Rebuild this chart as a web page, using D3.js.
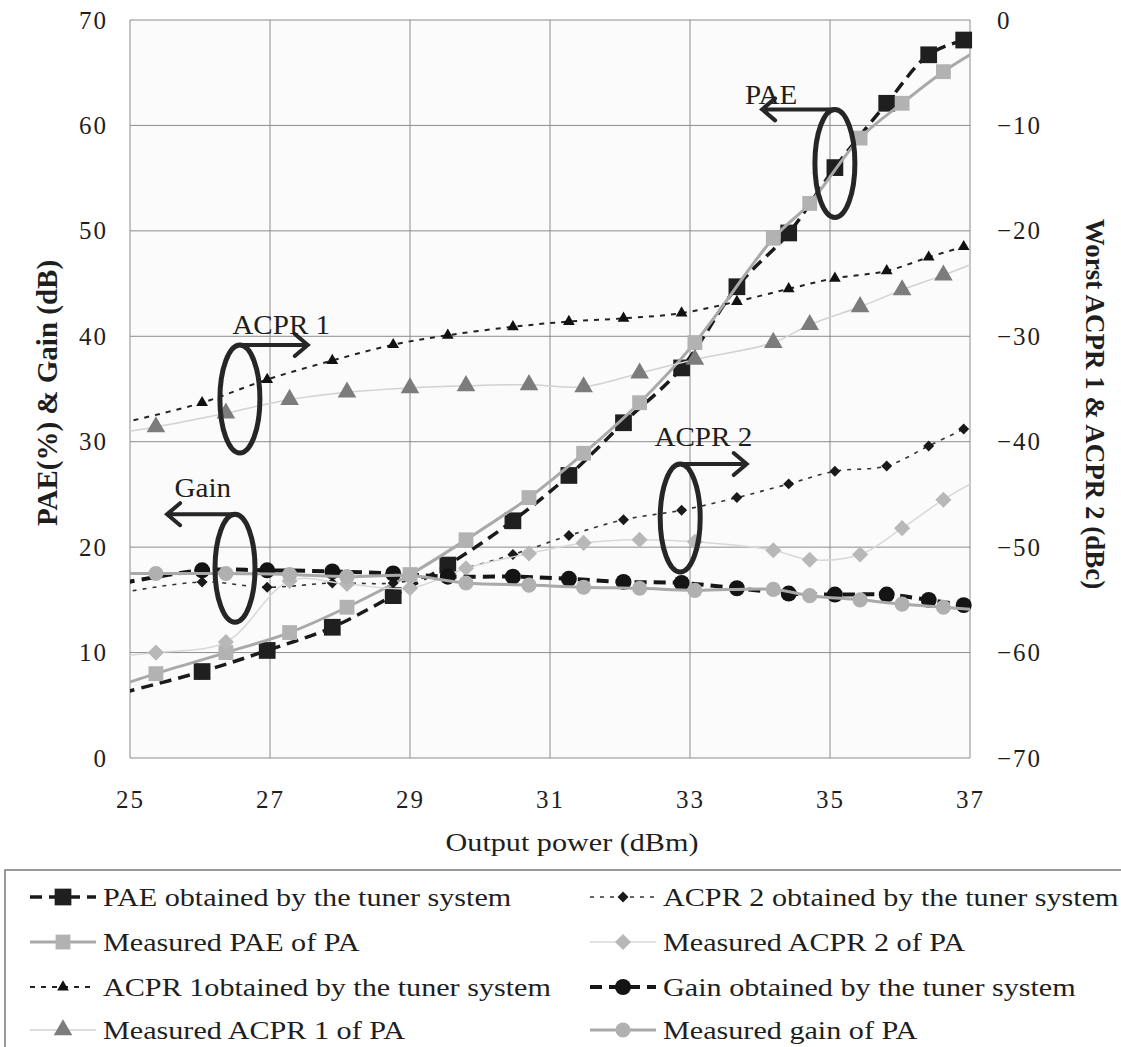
<!DOCTYPE html>
<html>
<head>
<meta charset="utf-8">
<script src="https://cdn.jsdelivr.net/npm/d3@7"></script>
<style>
  body { margin: 0; background: #fff; }
  svg { display: block; }
  text { font-family: "Liberation Serif", "Times New Roman", serif; fill: #1e1e1e; }
</style>
</head>
<body>
<svg id="chart" width="1121" height="1047"></svg>
<script>
// ---- data -------------------------------------------------------------
// Output power (dBm) of the tuner-system sweep
const tunerPower = [24.9, 26.03, 26.96, 27.89, 28.76, 29.54, 30.47, 31.27, 32.05, 32.88, 33.67, 34.41, 35.07, 35.81, 36.41, 36.91];
const tunerPAE   = [6.2, 8.2, 10.2, 12.4, 15.4, 18.3, 22.5, 26.8, 31.8, 37.0, 44.7, 49.8, 56.0, 62.1, 66.7, 68.1];
const tunerGain  = [16.6, 17.8, 17.8, 17.7, 17.5, 17.2, 17.2, 17.0, 16.7, 16.6, 16.1, 15.6, 15.5, 15.5, 15.0, 14.5];
const tunerACPR1 = [-38.2, -36.3, -34.1, -32.3, -30.8, -29.9, -29.1, -28.6, -28.3, -27.8, -26.7, -25.5, -24.5, -23.8, -22.5, -21.5];
const tunerACPR2 = [-54.3, -53.3, -53.8, -53.4, -53.4, -52.4, -50.7, -48.9, -47.4, -46.5, -45.3, -44.0, -42.8, -42.3, -40.4, -38.8];

// Output power (dBm) of the PA measurement
const paPower = [24.5, 25.37, 26.37, 27.28, 28.1, 29.0, 29.8, 30.7, 31.48, 32.28, 33.07, 34.19, 34.71, 35.43, 36.03, 36.62, 37.2];
const paPAE   = [6.1, 8.0, 10.0, 11.9, 14.3, 17.4, 20.7, 24.7, 28.9, 33.7, 39.4, 49.3, 52.6, 58.8, 62.1, 65.1, 67.5];
const paGain  = [17.5, 17.5, 17.5, 17.4, 17.2, 17.3, 16.6, 16.4, 16.2, 16.1, 15.9, 16.0, 15.4, 15.0, 14.6, 14.3, 14.0];
const paACPR1 = [-39.5, -38.6, -37.3, -36.0, -35.3, -34.9, -34.7, -34.6, -34.8, -33.5, -32.2, -30.6, -28.9, -27.2, -25.6, -24.2, -22.7];
const paACPR2 = [-60.5, -60.0, -59.0, -53.2, -53.5, -53.9, -52.0, -50.6, -49.6, -49.3, -49.5, -50.3, -51.2, -50.7, -48.2, -45.5, -43.3];

// axis ticks
const xTicks = [25, 27, 29, 31, 33, 35, 37];
const leftTicks = [0, 10, 20, 30, 40, 50, 60, 70];
const rightTicks = [0, -10, -20, -30, -40, -50, -60, -70];

// series labels, in drawing / legend order
const seriesNames = [
  "PAE obtained by the tuner system",
  "Measured PAE of PA",
  "ACPR 1obtained by the tuner system",
  "Measured ACPR 1 of PA",
  "ACPR 2 obtained by the tuner system",
  "Measured ACPR 2 of PA",
  "Gain obtained by the tuner system",
  "Measured gain of PA"
];

// callout labels: text, ellipse centre (dBm, left-axis units), arrow end (dBm), label position
const calloutText = ["PAE", "ACPR 1", "Gain", "ACPR 2"];
const calloutCx   = [35.07, 26.57, 26.5, 32.86];
const calloutCy   = [56.4, 34.05, 18.0, 22.76];
const calloutTip  = [34.03, 27.54, 25.53, 33.81];
const calloutTx   = [34.16, 27.16, 26.04, 33.19];
const calloutTy   = [62.0, 40.2, 24.8, 29.6];

// ---- layout -----------------------------------------------------------
const svg = d3.select("#chart");
const plot = { left: 130, right: 970, top: 20, bottom: 758 };
const widen = 1.16;   // the serif labels are set slightly wide

const x  = d3.scaleLinear().domain([25, 37]).range([plot.left, plot.right]);
const yL = d3.scaleLinear().domain([0, 70]).range([plot.bottom, plot.top]);
const yR = d3.scaleLinear().domain([-70, 0]).range([plot.bottom, plot.top]);

svg.append("defs").append("clipPath").attr("id", "plotClip")
  .append("rect")
  .attr("x", plot.left).attr("y", plot.top)
  .attr("width", plot.right - plot.left).attr("height", plot.bottom - plot.top);

// plot background
svg.append("rect")
  .attr("x", plot.left).attr("y", plot.top)
  .attr("width", plot.right - plot.left).attr("height", plot.bottom - plot.top)
  .attr("fill", "#fbfbfb");

// grid
const grid = svg.append("g").attr("stroke", "#8c8c8c").attr("stroke-width", 1);
grid.selectAll("line.v").data(xTicks).join("line")
  .attr("x1", d => x(d)).attr("x2", d => x(d))
  .attr("y1", plot.top).attr("y2", plot.bottom);
grid.selectAll("line.h").data(leftTicks).join("line")
  .attr("x1", plot.left).attr("x2", plot.right)
  .attr("y1", d => yL(d)).attr("y2", d => yL(d));

// axes (labels only, gridlines serve as ticks)
const axisFont = 25;
const gx = svg.append("g").attr("transform", `translate(0,${plot.bottom + 42})`)
  .call(d3.axisBottom(x).tickValues(xTicks).tickSize(0).tickPadding(0));
const gl = svg.append("g").attr("transform", `translate(${plot.left - 22},0)`)
  .call(d3.axisLeft(yL).tickValues(leftTicks).tickSize(0).tickPadding(0));
const gr = svg.append("g").attr("transform", `translate(${plot.right + 27},0)`)
  .call(d3.axisRight(yR).tickValues(rightTicks).tickSize(0).tickPadding(0));
[gx, gl, gr].forEach(g => {
  g.select(".domain").remove();
  g.selectAll("text")
    .attr("font-family", "'Liberation Serif', serif")
    .attr("font-size", axisFont)
    .attr("letter-spacing", 2)
    .attr("fill", "#1e1e1e");
});
gx.selectAll("text").attr("dy", "0.32em");

// axis titles
svg.append("text")
  .attr("transform", `translate(${(plot.left + plot.right) / 2 + 22},851) scale(${widen},1)`)
  .attr("text-anchor", "middle").attr("font-size", 26)
  .text("Output power (dBm)");
svg.append("text")
  .attr("transform", `translate(57,${(plot.top + plot.bottom) / 2 + 4}) rotate(-90)`)
  .attr("text-anchor", "middle").attr("font-size", 29).attr("font-weight", "bold")
  .text("PAE(%) & Gain (dB)");
svg.append("text")
  .attr("transform", `translate(1086,${(plot.top + plot.bottom) / 2 + 15}) rotate(90)`)
  .attr("text-anchor", "middle").attr("font-size", 27).attr("font-weight", "bold")
  .text("Worst ACPR 1 & ACPR 2 (dBc)");

// ---- series -----------------------------------------------------------
const diamond = { draw(ctx, size) { const r = Math.sqrt(size / 2); ctx.moveTo(0, -r); ctx.lineTo(r, 0); ctx.lineTo(0, r); ctx.lineTo(-r, 0); ctx.closePath(); } };

const series = [
  { xs: tunerPower, ys: tunerPAE,   y: yL, line: "#1a1a1a", lw: 3.5, dash: "12,7", sym: d3.symbolSquare,   size: 280, fill: "#1f1f1f" },
  { xs: paPower,    ys: paPAE,      y: yL, line: "#a9a9a9", lw: 3,   dash: null,   sym: d3.symbolSquare,   size: 220, fill: "#b2b2b2" },
  { xs: tunerPower, ys: tunerACPR1, y: yR, line: "#222",    lw: 2,   dash: "5,6",  sym: d3.symbolTriangle, size: 60,  fill: "#111" },
  { xs: paPower,    ys: paACPR1,    y: yR, line: "#d2d2d2", lw: 1.5, dash: null,   sym: d3.symbolTriangle, size: 150, fill: "#7c7c7c" },
  { xs: tunerPower, ys: tunerACPR2, y: yR, line: "#333",    lw: 1.6, dash: "4,6",  sym: diamond,           size: 60,  fill: "#1a1a1a" },
  { xs: paPower,    ys: paACPR2,    y: yR, line: "#d8d8d8", lw: 1.5, dash: null,   sym: diamond,           size: 130, fill: "#b8b8b8" },
  { xs: tunerPower, ys: tunerGain,  y: yL, line: "#161616", lw: 4,   dash: "12,7", sym: d3.symbolCircle,   size: 200, fill: "#141414" },
  { xs: paPower,    ys: paGain,     y: yL, line: "#a9a9a9", lw: 3,   dash: null,   sym: d3.symbolCircle,   size: 180, fill: "#b0b0b0" }
];

const dataLayer = svg.append("g");
series.forEach(s => {
  const pts = s.xs.map((p, i) => [p, s.ys[i]]);
  const line = d3.line().x(d => x(d[0])).y(d => s.y(d[1])).curve(d3.curveCatmullRom.alpha(0.5));
  dataLayer.append("path")
    .attr("clip-path", "url(#plotClip)")
    .attr("d", line(pts))
    .attr("fill", "none")
    .attr("stroke", s.line)
    .attr("stroke-width", s.lw)
    .attr("stroke-dasharray", s.dash);
  dataLayer.append("g").selectAll("path")
    .data(pts.filter(d => d[0] >= 25 && d[0] <= 37))
    .join("path")
    .attr("transform", d => `translate(${x(d[0])},${s.y(d[1])})`)
    .attr("d", d3.symbol().type(s.sym).size(s.size))
    .attr("fill", s.fill);
});

// ---- callouts (ellipse + arrow + label) --------------------------------
const callouts = svg.append("g");
calloutText.forEach((t, i) => {
  const cx = x(calloutCx[i]), cy = yL(calloutCy[i]);
  const rx = 20, ry = 54;
  const top = cy - ry;
  const tip = x(calloutTip[i]);
  const dir = tip > cx ? 1 : -1;
  callouts.append("ellipse")
    .attr("cx", cx).attr("cy", cy).attr("rx", rx).attr("ry", ry)
    .attr("fill", "none").attr("stroke", "#262626").attr("stroke-width", 5);
  callouts.append("path")
    .attr("d", `M${cx},${top}H${tip}M${tip - dir * 13},${top - 11}L${tip},${top}L${tip - dir * 13},${top + 11}`)
    .attr("fill", "none").attr("stroke", "#262626").attr("stroke-width", 4)
    .attr("stroke-linecap", "round").attr("stroke-linejoin", "miter");
  callouts.append("text")
    .attr("transform", `translate(${x(calloutTx[i])},${yL(calloutTy[i])}) scale(1.04,1)`)
    .attr("text-anchor", "middle").attr("font-size", 28)
    .text(t);
});

// ---- legend -------------------------------------------------------------
const legend = svg.append("g");
legend.append("rect")
  .attr("x", 5).attr("y", 870).attr("width", 1140).attr("height", 200)
  .attr("fill", "#fff").attr("stroke", "#7a7a7a").attr("stroke-width", 1.5);

const rowY = [897, 942, 987, 1030];
const colX = [30, 590];
const sampleW = 66;
series.forEach((s, i) => {
  const col = Math.floor(i / 4), row = i % 4;
  const x0 = colX[col], yy = rowY[row];
  legend.append("line")
    .attr("x1", x0).attr("x2", x0 + sampleW).attr("y1", yy).attr("y2", yy)
    .attr("stroke", s.line).attr("stroke-width", s.lw).attr("stroke-dasharray", s.dash);
  legend.append("path")
    .attr("transform", `translate(${x0 + sampleW / 2},${yy})`)
    .attr("d", d3.symbol().type(s.sym).size(s.size))
    .attr("fill", s.fill);
  legend.append("text")
    .attr("transform", `translate(${x0 + sampleW + 7},${yy}) scale(${widen},1)`)
    .attr("dy", "0.33em")
    .attr("font-size", 26)
    .text(seriesNames[i]);
});
</script>
</body>
</html>
